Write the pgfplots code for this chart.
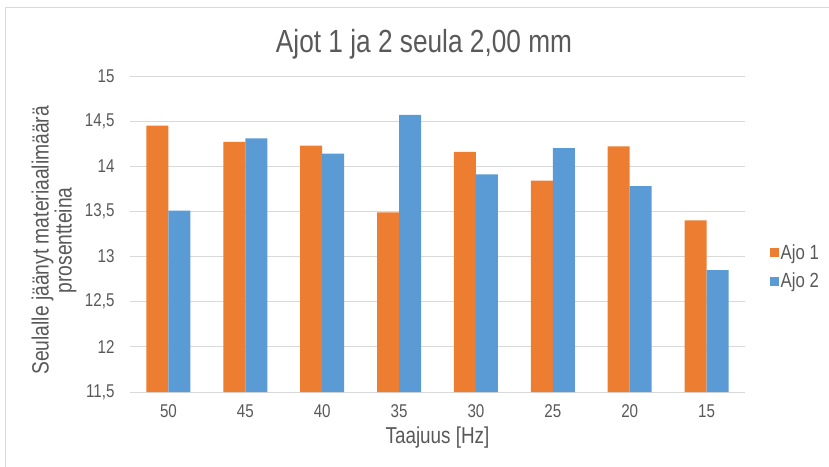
\documentclass[border=0pt]{standalone}
\usepackage{pgfplots}
\pgfplotsset{compat=1.18}
\usepackage{fontspec}
\setmainfont{Liberation Sans}[FakeStretch=0.82]
\definecolor{ajoA}{HTML}{ED7D31}
\definecolor{ajoB}{HTML}{5B9BD5}
\definecolor{gridc}{HTML}{D9D9D9}
\definecolor{txt}{HTML}{595959}
\begin{document}
\begin{tikzpicture}[x=1pt,y=1pt]
\useasboundingbox (0,0) rectangle (829,466);
\draw[gridc, line width=1pt] (5,-2) -- (5,458) -- (831,458);
\node[anchor=base, text=txt, font=\fontsize{32}{36}\selectfont] at (424,413) {Ajot 1 ja 2 seula 2,00 mm};
\begin{axis}[
  at={(130pt,74pt)}, anchor=south west,
  scale only axis, width=615pt, height=316pt,
  ybar=0pt, bar width=22pt,
  xmin=-0.5, xmax=7.5, ymin=11.5, ymax=15,
  xtick={0,...,7},
  xticklabels={50,45,40,35,30,25,20,15},
  ytick={11.5,12,12.5,13,13.5,14,14.5,15},
  yticklabels={{11,5},{12},{12,5},{13},{13,5},{14},{14,5},{15}},
  major tick length=0pt,
  axis line style={draw=none},
  ymajorgrids, grid style={gridc, line width=1pt},
  tick label style={text=txt, font=\fontsize{18.5}{20}\selectfont},
  yticklabel style={xshift=-12pt},
  xticklabel style={yshift=-9pt},
  xlabel={Taajuus [Hz]},
  xlabel style={at={(axis description cs:0.5,0)}, anchor=center, yshift=-46pt, text=txt, font=\fontsize{23}{25}\selectfont},
  ylabel={Seulalle jäänyt materiaalimäärä\\prosentteina},
  ylabel style={at={(axis description cs:-0.1236,0.48)}, anchor=center, align=center, text=txt, font=\fontsize{23.5}{20}\selectfont},
  legend style={draw=none, at={(1.035,0.396)}, anchor=west, fill=none,
    font=\fontsize{20.5}{22}\selectfont, text=txt, row sep=8pt,
    legend cell align=left},
  legend image code/.code={\fill[#1] (0pt,-4.5pt) rectangle (9pt,4.5pt);},
]
\addplot[fill=ajoA, draw=none] coordinates {(0,14.45) (1,14.27) (2,14.23) (3,13.49) (4,14.16) (5,13.84) (6,14.22) (7,13.40)};
\addplot[fill=ajoB, draw=none] coordinates {(0,13.51) (1,14.31) (2,14.14) (3,14.57) (4,13.91) (5,14.20) (6,13.78) (7,12.85)};
\legend{Ajo 1, Ajo 2}
\end{axis}
\end{tikzpicture}
\end{document}
